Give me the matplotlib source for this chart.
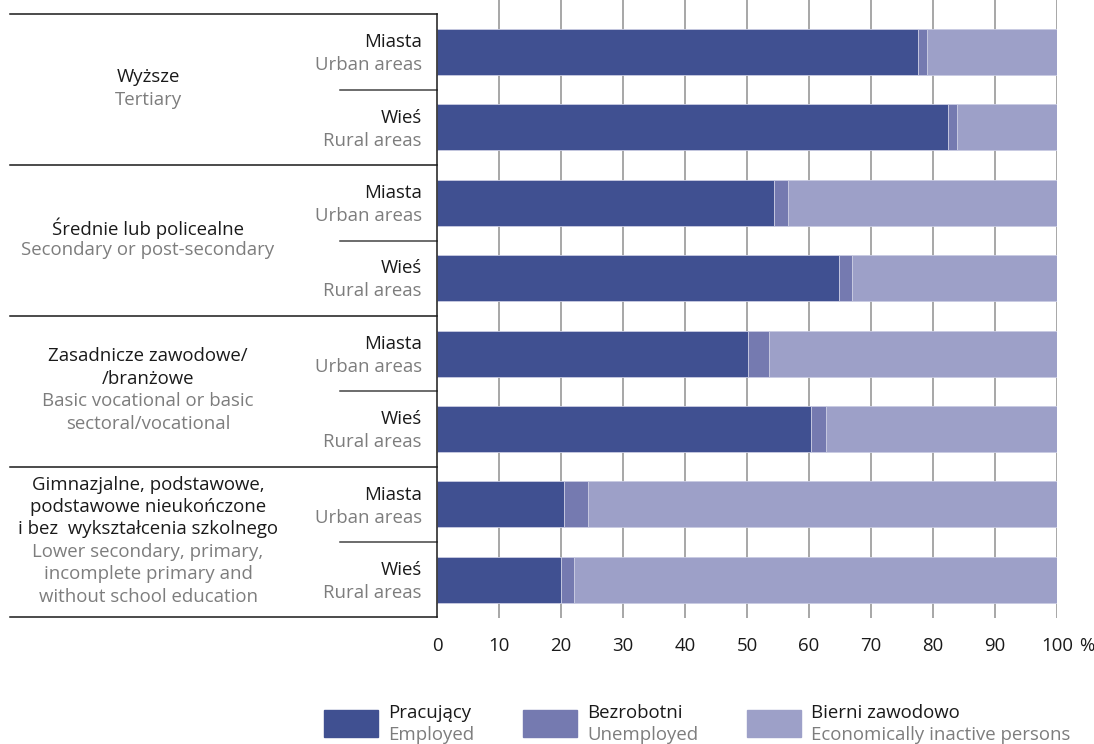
import matplotlib.pyplot as plt
from matplotlib.patches import Rectangle

plt.rcParams['font.family'] = ['Open Sans', 'DejaVu Sans']

# Dane
grupy_pl = [["Wyższe"],
            ["Średnie lub policealne"],
            ["Zasadnicze zawodowe/", "/branżowe"],
            ["Gimnazjalne, podstawowe,", "podstawowe nieukończone", "i bez  wykształcenia szkolnego"]]
grupy_en = [["Tertiary"],
            ["Secondary or post-secondary"],
            ["Basic vocational or basic", "sectoral/vocational"],
            ["Lower secondary, primary,", "incomplete primary and", "without school education"]]
miejsce_pl = ["Miasta", "Wieś"]
miejsce_en = ["Urban areas", "Rural areas"]

# wiersze: Wyższe M/W, Średnie M/W, Zasadnicze M/W, Gimnazjalne M/W
pracujacy = [77.6, 82.4, 54.4, 64.8, 50.2, 60.3, 20.5, 20.0]
bezrobotni = [1.4, 1.5, 2.2, 2.1, 3.4, 2.4, 3.8, 2.1]
bierni = [100 - p - b for p, b in zip(pracujacy, bezrobotni)]

seria_pl = ["Pracujący", "Bezrobotni", "Bierni zawodowo"]
seria_en = ["Employed", "Unemployed", "Economically inactive persons"]
kolory = ["#405091", "#757ab0", "#9da0c8"]

czarny = "#1a1a1a"
szary = "#7d7d7d"
fs = 13.4

fig = plt.figure(figsize=(10.94, 7.44), dpi=100)
ax = fig.add_axes([437 / 1094, 1 - 618 / 744, 620 / 1094, 618 / 744])

y = list(range(len(pracujacy)))
h = 0.61
lewo = [0] * len(y)
for vals, kol in zip([pracujacy, bezrobotni, bierni], kolory):
    ax.barh(y, vals, height=h, left=lewo, color=kol, edgecolor="#c9cbe2", linewidth=0.6, zorder=2)
    lewo = [a + b for a, b in zip(lewo, vals)]

ax.set_xlim(0, 100)
ax.set_ylim(7.507, -0.69)

# siatka pionowa
for x in range(10, 101, 10):
    ax.axvline(x, color="#a0a0a0", linewidth=1.3, zorder=0)

for s in ax.spines.values():
    s.set_visible(False)
ax.set_yticks([])
ax.set_xticks(range(0, 101, 10))
ax.set_xticklabels([str(v) for v in range(0, 101, 10)], fontsize=fs, color=czarny)
ax.tick_params(axis="x", length=0, pad=14)
ax.annotate("%", xy=(1.0, 0), xycoords="axes fraction", xytext=(16, -14),
            textcoords="offset points", fontsize=fs, color=czarny, ha="left", va="top")

# linie tabeli
yt = ax.get_yaxis_transform()
ax.plot([0, 0], [-0.5, 7.5], color=czarny, linewidth=1.1, clip_on=False, zorder=3)
for yl in [-0.5, 1.5, 3.5, 5.5, 7.5]:
    ax.plot([-0.689, 0], [yl, yl], color=czarny, linewidth=1.1, transform=yt, clip_on=False)
for yl in [0.5, 2.5, 4.5, 6.5]:
    ax.plot([-0.156, 0], [yl, yl], color="#444444", linewidth=1.1, transform=yt, clip_on=False)

# etykiety wierszy
for i in y:
    ax.annotate(miejsce_pl[i % 2], xy=(-0.0242, i), xycoords=yt, xytext=(0, 7),
                textcoords="offset points", ha="right", va="center", fontsize=fs, color=czarny)
    ax.annotate(miejsce_en[i % 2], xy=(-0.0242, i), xycoords=yt, xytext=(0, -9.5),
                textcoords="offset points", ha="right", va="center", fontsize=fs, color=szary)

# etykiety grup
odst = 22.4 * 0.72
for g in range(len(grupy_pl)):
    linie = [(t, czarny) for t in grupy_pl[g]] + [(t, szary) for t in grupy_en[g]]
    n = len(linie)
    for k, (t, c) in enumerate(linie):
        dy = ((n - 1) / 2 - k) * odst + 1
        ax.annotate(t, xy=(-0.466, 2 * g + 0.5), xycoords=yt, xytext=(0, dy),
                    textcoords="offset points", ha="center", va="center", fontsize=fs, color=c)

# legenda
leg_x = [324, 523, 747]
for lx, kol, tpl, ten in zip(leg_x, kolory, seria_pl, seria_en):
    fig.patches.append(Rectangle((lx / 1094, 1 - 737 / 744), 54 / 1094, 27 / 744,
                                 transform=fig.transFigure, color=kol, figure=fig))
    fig.text((lx + 64) / 1094, 1 - 713 / 744, tpl, fontsize=fs, color=czarny, va="center", ha="left")
    fig.text((lx + 64) / 1094, 1 - 735 / 744, ten, fontsize=fs, color=szary, va="center", ha="left")

fig.savefig("out.png", dpi=100)
